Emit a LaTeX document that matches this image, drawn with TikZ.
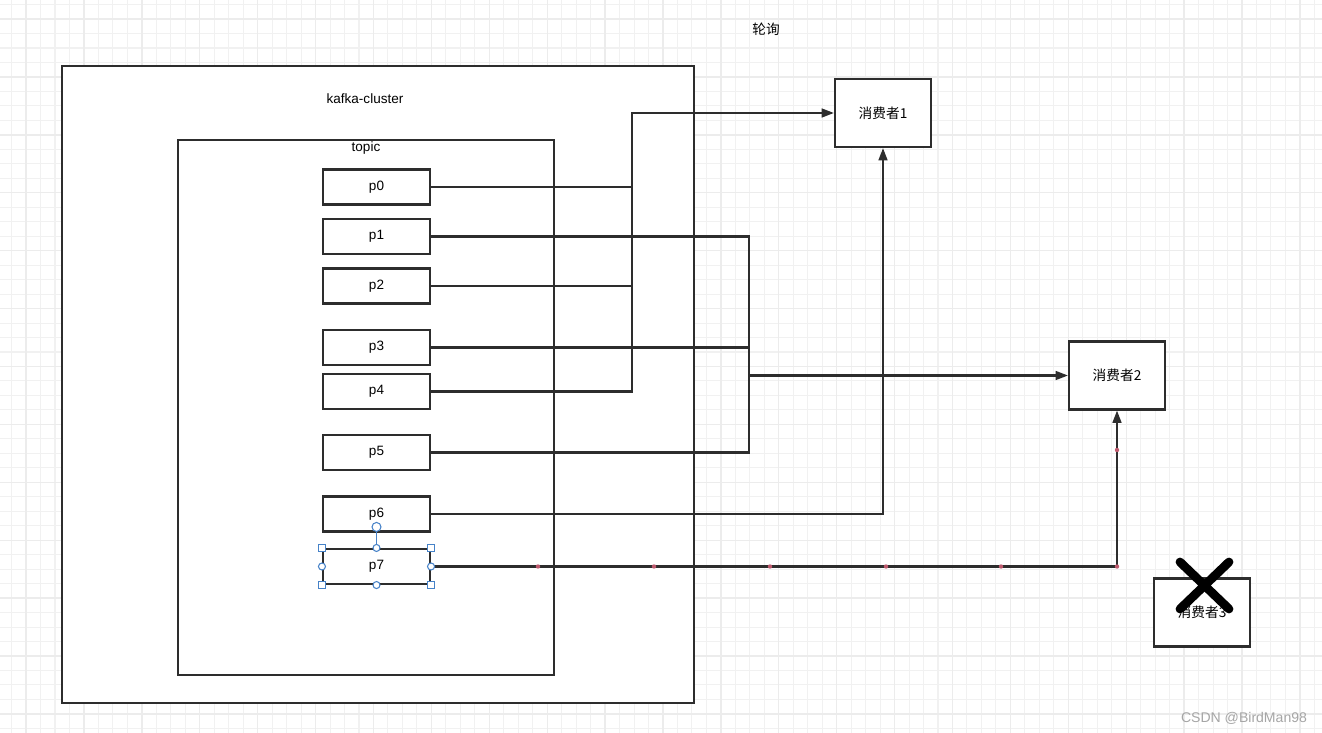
\documentclass[tikz,border=0pt]{standalone}
\usepackage{fontspec}
\setmainfont{Liberation Sans}
\newfontfamily\cjk{Noto Sans CJK SC}
\usepackage{xcolor}
\usepackage{tikz}
\usetikzlibrary{positioning,arrows.meta,calc}

\definecolor{inkgray}{RGB}{45,45,45}
\definecolor{gridline}{RGB}{241,241,241}
\definecolor{gridmajor}{RGB}{236,236,236}
\definecolor{selblue}{RGB}{70,130,200}
\definecolor{waypoint}{RGB}{190,90,110}

\begin{document}
\begin{tikzpicture}[x=0.02cm, y=-0.02cm,
    frame/.style={draw=inkgray, fill=white, line width=1.2pt},
    part/.style={draw=inkgray, fill=white, line width=1.2pt, inner sep=0pt,
        minimum width=2.14cm, minimum height=0.70cm, font=\fontsize{7.7}{9}\selectfont},
    consumer/.style={draw=inkgray, fill=white, line width=1.2pt, inner sep=0pt,
        minimum width=1.92cm, minimum height=1.36cm, font=\cjk\fontsize{7.8}{9}\selectfont},
    link/.style={draw=inkgray, line width=1.2pt},
    tip/.style={-{Triangle[length=7pt,width=5pt]}},
    handle/.style={draw=selblue, fill=white, line width=0.6pt}]
    \useasboundingbox (0,0) rectangle (1322,733);
    \fill[white] (0,0) rectangle (1322,733);

    % background grid
    \foreach \i in {0,...,91} {
        \draw[gridline, line width=0.6pt] ({11.6+14.475*\i},0) -- ++(0,733);
    }
    \foreach \j in {0,...,50} {
        \draw[gridline, line width=0.6pt] (0,{4.6+14.475*\j}) -- ++(1322,0);
    }
    \foreach \i in {0,...,22} {
        \draw[gridmajor, line width=0.7pt] ({26.1+57.9*\i},0) -- ++(0,733);
    }
    \foreach \j in {0,...,12} {
        \draw[gridmajor, line width=0.7pt] (0,{19.1+57.9*\j}) -- ++(1322,0);
    }

    \node[font=\cjk\fontsize{7.8}{9}\selectfont] (poll) at (766,29) {轮询};

    \draw[frame] (62,66) rectangle (694,703);
    \node[font=\fontsize{7.7}{9}\selectfont] (cluster) at (365,98.5) {kafka-cluster};
    \draw[frame] (178,140) rectangle (554,675);
    \node[font=\fontsize{7.7}{9}\selectfont] (topic) at (366,148.5) {topic};

    \node[part] (p0) at (376.5,187) {p0};
    \node[part] (p1) at (376.5,236.5) {p1};
    \node[part] (p2) at (376.5,286) {p2};
    \node[part] (p3) at (376.5,347.5) {p3};
    \node[part] (p4) at (376.5,391.5) {p4};
    \node[part] (p5) at (376.5,452.5) {p5};
    \node[part] (p6) at (376.5,514) {p6};
    \node[part] (p7) at (376.5,566.5) {p7};

    \node[consumer] (c1) at (883,113) {消费者1};
    \node[consumer] (c2) at (1117,375.5) {消费者2};
    \node[consumer] (c3) at (1202,612.5) {消费者3};

    \coordinate (bus1) at (632,113);
    \coordinate (bus2) at (749,375.5);

    \draw[link] (p0.east) -- (p0.east -| bus1);
    \draw[link] (p2.east) -- (p2.east -| bus1);
    \draw[link, tip] (p4.east) -| (bus1) -- (c1.west);

    \draw[link] (p1.east) -| (bus2);
    \draw[link] (p5.east) -| (bus2);
    \draw[link] (p3.east) -- (p3.east -| bus2);
    \draw[link, tip] (bus2) -- (c2.west);

    \draw[link, tip] (p6.east) -| (c1.south);
    \draw[link, tip] (p7.east) -| (c2.south);

    \foreach \x in {538,654,770,886,1001,1117} {
        \fill[waypoint] (\x,566.5) circle (2.2);
    }
    \fill[waypoint] (1117,450) circle (2.2);

    % selection handles on p7
    \draw[selblue, line width=0.8pt] (p7.north) -- ++(0,-21);
    \draw[handle] ($(p7.north)+(0,-21)$) circle (4.5);
    \foreach \a in {north west,north east,south west,south east} {
        \draw[handle] ($(p7.\a)+(-3.5,-3.5)$) rectangle ++(7,7);
    }
    \foreach \a in {north,south,west,east} {
        \draw[handle] (p7.\a) circle (3.5);
    }

    % cross over consumer 3
    \draw[black, line width=5pt, line cap=round] (1180,562) -- (1229,609);
    \draw[black, line width=5pt, line cap=round] (1229,562) -- (1180,609);

    \node[text=black!35, font=\fontsize{8}{10}\selectfont] (mark) at (1244,718) {CSDN @BirdMan98};
\end{tikzpicture}
\end{document}
